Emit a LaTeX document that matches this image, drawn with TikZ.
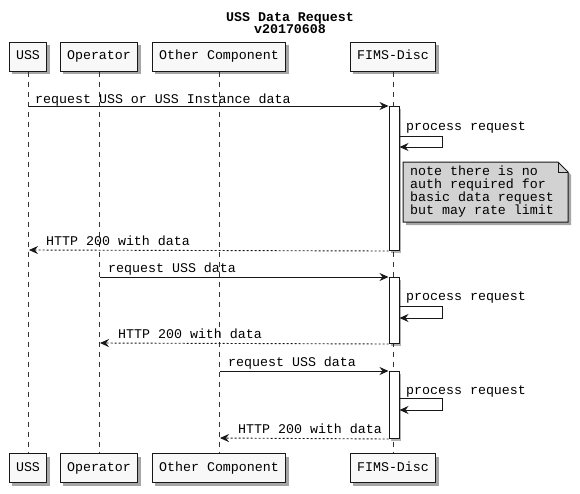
\documentclass[tikz,border=0pt]{standalone}
\usepackage{fontspec}
\setmainfont{Liberation Mono}
\usetikzlibrary{arrows.meta,shadows}
\definecolor{linec}{HTML}{181818}
\definecolor{boxfill}{HTML}{F8F8F8}
\definecolor{notefill}{HTML}{D2D2D2}
\definecolor{lifec}{HTML}{333333}
\tikzset{
  part/.style={draw=linec, fill=boxfill, line width=1pt, minimum height=29pt, inner xsep=7pt, inner ysep=0pt,
    text height=9pt, text depth=3pt,
    drop shadow={shadow xshift=3pt, shadow yshift=-3pt, fill=black, opacity=.35}},
  life/.style={draw=lifec, line width=0.8pt, dash pattern=on 5pt off 5pt},
  msg/.style={draw=linec, line width=1pt, -{Stealth[length=9pt,width=8pt,inset=3pt]}},
  ret/.style={draw=linec, line width=0.9pt, dash pattern=on 2pt off 2pt, -{Stealth[length=9pt,width=8pt,inset=3pt]}},
  lbl/.style={inner sep=0pt, anchor=base west},
  actbar/.style={draw=linec, fill=white, line width=1pt, drop shadow={shadow xshift=2pt, shadow yshift=-2pt, fill=black, opacity=.3}},
  notebox/.style={draw=linec, fill=notefill, line width=1pt, drop shadow={shadow xshift=3pt, shadow yshift=-3pt, fill=black, opacity=.35}}
}
\begin{document}
\begin{tikzpicture}[x=1pt,y=-1pt, font=\fontsize{13.3}{13}\selectfont]
\useasboundingbox (0,0) rectangle (580,493);
\fill[white] (0,0) rectangle (580,493);

% title
\node[align=center, font=\fontsize{13.3}{12}\selectfont\bfseries, inner sep=0pt] (title) at (290,23) {USS Data Request\\v20170608};

% participants top
\node[part] (ussT) at (28,56.5) {USS};
\node[part] (opT) at (99,56.5) {Operator};
\node[part] (ocT) at (219,56.5) {Other Component};
\node[part] (fdT) at (393,56.5) {FIMS-Disc};
% participants bottom
\node[part] (ussB) at (28,468) {USS};
\node[part] (opB) at (99,468) {Operator};
\node[part] (ocB) at (219,468) {Other Component};
\node[part] (fdB) at (393,468) {FIMS-Disc};

% lifelines
\draw[life] (ussT.south) -- (ussB.north);
\draw[life] (opT.south) -- (opB.north);
\draw[life] (ocT.south) -- (ocB.north);
\draw[life] (fdT.south) -- (fdB.north);

% activation bars
\node[actbar, minimum width=10pt, minimum height=144pt, inner sep=0pt, anchor=north] (act1) at (394,106) {};
\node[actbar, minimum width=10pt, minimum height=66pt, inner sep=0pt, anchor=north] (act2) at (394,277) {};
\node[actbar, minimum width=10pt, minimum height=67pt, inner sep=0pt, anchor=north] (act3) at (394,371) {};

% coordinates
\coordinate (u1) at (29,106);
\coordinate (u2) at (29,250);
\coordinate (o1) at (100,277);
\coordinate (o2) at (100,343);
\coordinate (c1) at (220,371);
\coordinate (c2) at (220,438);

% message 1
\draw[msg] (u1) -- (act1.north west);
\node[lbl] (t1) at (35,103) {request USS or USS Instance data};
% self 1
\coordinate (s1a) at (442,136);
\coordinate (s1b) at (442,147);
\draw[msg] (act1.east |- s1a) -- (s1a) -- (s1b) -- (act1.east |- s1b);
\node[lbl] (t2) at (406,130) {process request};
% note
\coordinate (n1) at (403,162);
\coordinate (n2) at (558,162);
\coordinate (n3) at (568,172);
\coordinate (n4) at (568,222);
\coordinate (n5) at (403,222);
\coordinate (n6) at (558,172);
\path[notebox] (n1) -- (n2) -- (n3) -- (n4) -- (n5) -- cycle;
\draw[linec, line width=1pt] (n2) -- (n6) -- (n3);
\node[inner sep=0pt, anchor=north west, align=left] (note) at (410,166) {note there is no\\auth required for\\basic data request\\but may rate limit};
% return 1
\draw[ret] (act1.south west) -- (u2);
\node[lbl] (t3) at (46,245) {HTTP 200 with data};

% message 2
\draw[msg] (o1) -- (act2.north west);
\node[lbl] (t4) at (108,272) {request USS data};
\coordinate (s2a) at (442,306);
\coordinate (s2b) at (442,318);
\draw[msg] (act2.east |- s2a) -- (s2a) -- (s2b) -- (act2.east |- s2b);
\node[lbl] (t5) at (406,300) {process request};
\draw[ret] (act2.south west) -- (o2);
\node[lbl] (t6) at (118,338) {HTTP 200 with data};

% message 3
\draw[msg] (c1) -- (act3.north west);
\node[lbl] (t7) at (228,366) {request USS data};
\coordinate (s3a) at (442,398);
\coordinate (s3b) at (442,410);
\draw[msg] (act3.east |- s3a) -- (s3a) -- (s3b) -- (act3.east |- s3b);
\node[lbl] (t8) at (406,394) {process request};
\draw[ret] (act3.south west) -- (c2);
\node[lbl] (t9) at (238,433) {HTTP 200 with data};
\end{tikzpicture}
\end{document}
